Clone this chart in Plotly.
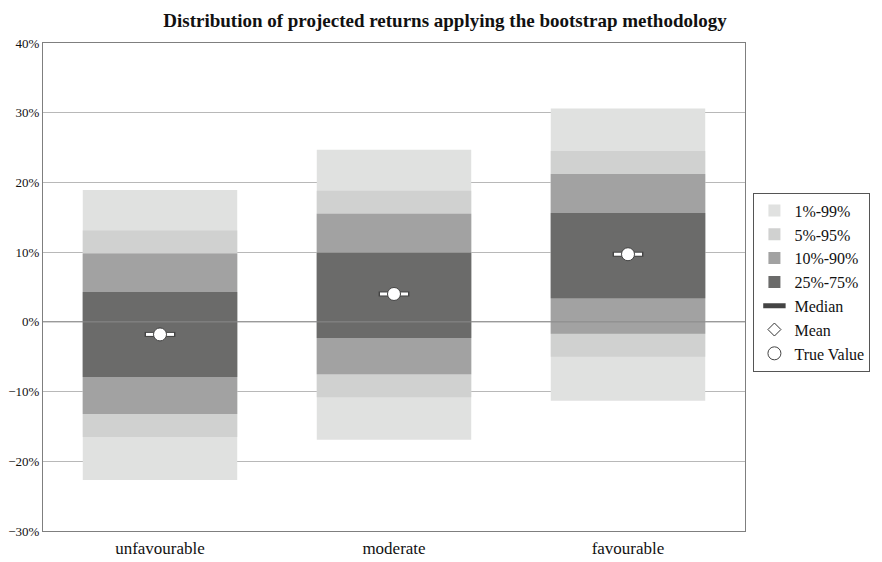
import plotly.graph_objects as go

# 情景与分位数数据（单位：%）
scenarios = ["unfavourable", "moderate", "favourable"]

p01 = [-22.7, -16.9, -11.3]
p99 = [18.9, 24.7, 30.6]
p05 = [-16.5, -10.8, -5.0]
p95 = [13.1, 18.8, 24.5]
p10 = [-13.2, -7.5, -1.7]
p90 = [9.8, 15.5, 21.2]
p25 = [-7.9, -2.3, 3.4]
p75 = [4.3, 9.9, 15.6]

median = [-1.8, 4.0, 9.7]
mean = [-1.8, 4.0, 9.7]
true_value = [-1.8, 4.0, 9.7]

band_names = ["1%-99%", "5%-95%", "10%-90%", "25%-75%"]
band_lows = [p01, p05, p10, p25]
band_highs = [p99, p95, p90, p75]
band_colors = ["#e0e1e0", "#d0d1d0", "#a2a2a2", "#6b6b6a"]

FONT = "Liberation Serif, Times New Roman, serif"

fig = go.Figure()

# 分位数区间柱
for name, lo, hi, color in zip(band_names, band_lows, band_highs, band_colors):
    fig.add_trace(go.Bar(
        x=scenarios,
        y=[h - l for h, l in zip(hi, lo)],
        base=lo,
        name=name,
        legendgroup=name,
        width=0.66,
        marker=dict(color=color, line=dict(width=0)),
    ))

# 中位数 / 均值 / 真实值
fig.add_trace(go.Scatter(
    x=scenarios, y=median, mode="markers", name="Median", legendgroup="Median",
    marker=dict(symbol="line-ew", size=22, color="white",
                line=dict(width=5, color="#444444")),
))
fig.add_trace(go.Scatter(
    x=scenarios, y=median, mode="markers", showlegend=False, legendgroup="Median",
    marker=dict(symbol="line-ew", size=20, color="white",
                line=dict(width=3, color="white")),
))
fig.add_trace(go.Scatter(
    x=scenarios, y=mean, mode="markers", name="Mean", legendgroup="Mean",
    marker=dict(symbol="diamond", size=10, color="white",
                line=dict(width=1, color="#333333")),
))
fig.add_trace(go.Scatter(
    x=scenarios, y=true_value, mode="markers", name="True Value", legendgroup="True Value",
    marker=dict(symbol="circle", size=13, color="white",
                line=dict(width=1, color="#444444")),
))

# 0% 线画在柱子上方
fig.add_hline(y=0, line_color="#8a8a8a", line_width=1, layer="above")

fig.update_layout(
    title=dict(
        text="<b>Distribution of projected returns applying the bootstrap methodology</b>",
        font=dict(family=FONT, size=19, color="#111111"),
        x=0.5, xanchor="center", y=0.978, yanchor="middle",
    ),
    barmode="overlay",
    xaxis=dict(
        showgrid=False, ticks="", showline=True, linecolor="#7f7f7f", mirror=True,
        tickfont=dict(family=FONT, size=17, color="#111111"),
        automargin=False, ticklabelstandoff=2,
    ),
    yaxis=dict(
        range=[-30, 40], dtick=10, ticksuffix="%",
        showgrid=True, gridcolor="#b8b8b8", gridwidth=1, zeroline=False,
        showline=True, linecolor="#7f7f7f", mirror=True, ticks="",
        tickfont=dict(family=FONT, size=13, color="#111111"),
        automargin=False, ticklabelstandoff=0,
    ),
    legend=dict(
        x=1.012, xanchor="left", y=0.51, yanchor="middle",
        bordercolor="#555555", borderwidth=1,
        font=dict(family=FONT, size=16, color="#111111"),
        tracegroupgap=0, itemwidth=30,
    ),
    plot_bgcolor="white",
    paper_bgcolor="white",
    width=874,
    height=554,
    margin=dict(l=35, r=128, t=35, b=31),
)

fig.write_html("out.html")
